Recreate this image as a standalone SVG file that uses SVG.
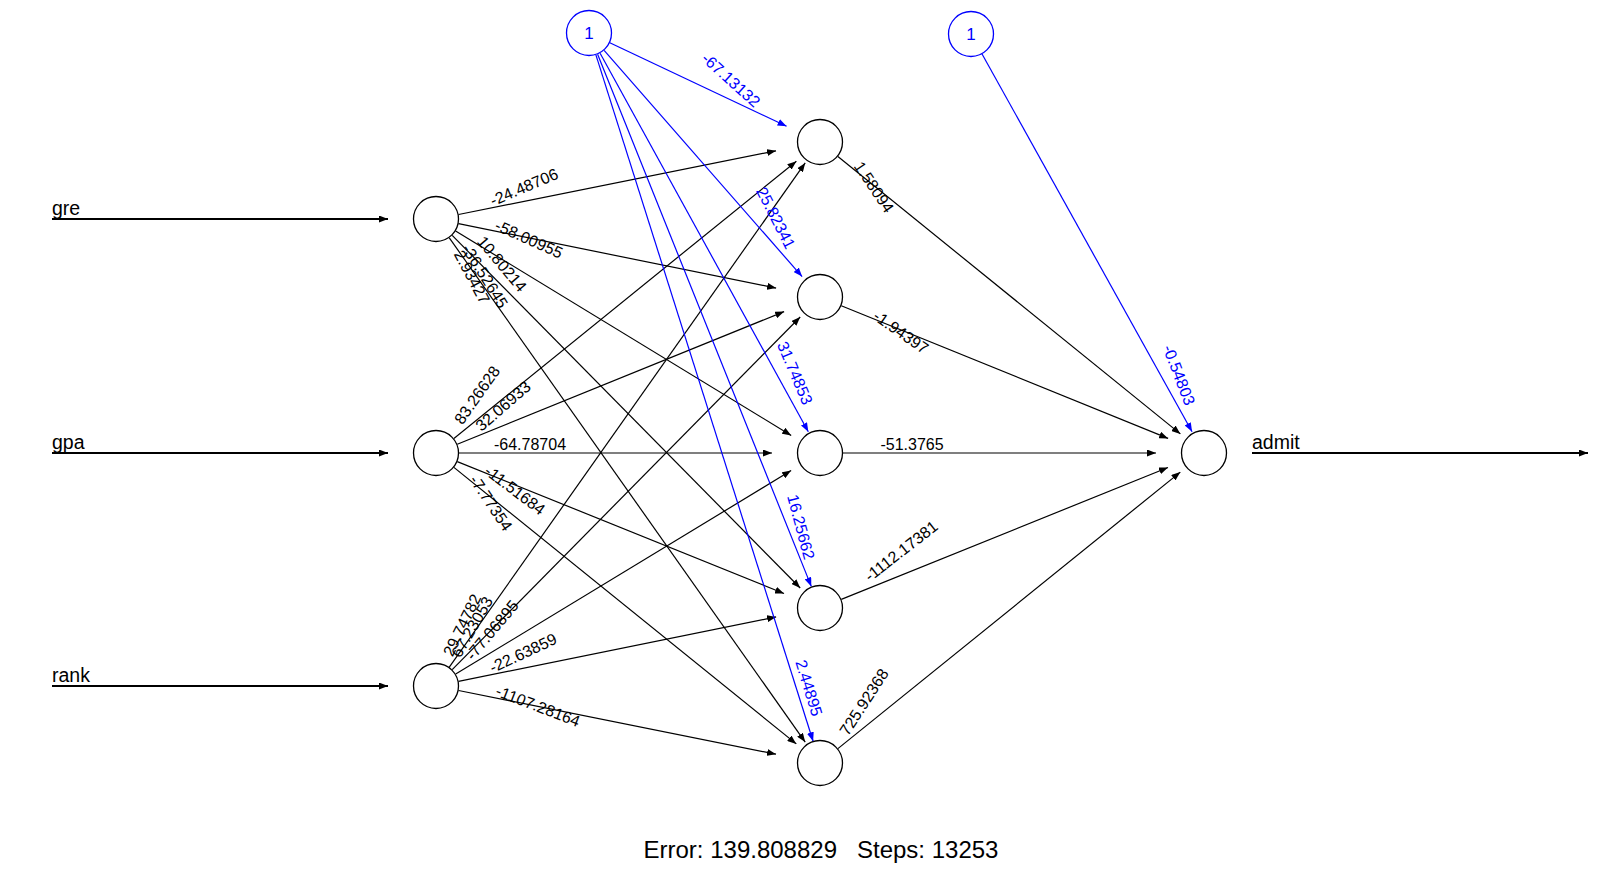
<svg xmlns="http://www.w3.org/2000/svg" width="1619" height="893" viewBox="0 0 1619 893">
<style>
.bg{fill:#ffffff}
.e{stroke:#000;stroke-width:1.2;fill:none;marker-end:url(#ab)}
.eb{stroke:#0000ff;stroke-width:1.2;fill:none;marker-end:url(#au)}
.io{stroke:#000;stroke-width:2;fill:none;marker-end:url(#ab)}
.n{fill:#fff;stroke:#000;stroke-width:1.3}
.nb{fill:#fff;stroke:#0000ff;stroke-width:1.3}
.lbl{font-family:"Liberation Sans",Arial,sans-serif;font-size:16px;fill:#000;text-anchor:middle}
.lb{font-family:"Liberation Sans",Arial,sans-serif;font-size:16px;fill:#0000ff;text-anchor:middle}
.var{font-family:"Liberation Sans",Arial,sans-serif;font-size:19.5px;fill:#000}
.one{font-family:"Liberation Sans",Arial,sans-serif;font-size:17px;fill:#0000ff;text-anchor:middle}
.foot{font-family:"Liberation Sans",Arial,sans-serif;font-size:24px;fill:#000;text-anchor:middle;white-space:pre}
</style>
<defs>
<marker id="ab" markerUnits="userSpaceOnUse" markerWidth="9" markerHeight="7" refX="9" refY="3.5" orient="auto"><path d="M0,0 L9,3.5 L0,7 z" fill="#000"/></marker>
<marker id="au" markerUnits="userSpaceOnUse" markerWidth="9" markerHeight="7" refX="9" refY="3.5" orient="auto"><path d="M0,0 L9,3.5 L0,7 z" fill="#0000ff"/></marker>
</defs>
<rect class="bg" x="0" y="0" width="1619" height="893"/>
<g id="connectors">
<line class="io" x1="52" y1="219" x2="388" y2="219"/>
<line class="io" x1="52" y1="453" x2="388" y2="453"/>
<line class="io" x1="52" y1="686" x2="388" y2="686"/>
<line class="io" x1="1252" y1="453" x2="1588" y2="453"/>
<line class="e" x1="458.6" y1="214.5" x2="776.0" y2="150.8"/>
<line class="e" x1="458.5" y1="223.6" x2="776.1" y2="288.1"/>
<line class="e" x1="455.6" y1="231.0" x2="791.2" y2="435.4"/>
<line class="e" x1="452.2" y1="235.4" x2="800.2" y2="588.0"/>
<line class="e" x1="449.3" y1="237.8" x2="805.2" y2="742.1"/>
<line class="e" x1="453.9" y1="438.5" x2="796.4" y2="161.2"/>
<line class="e" x1="457.3" y1="444.3" x2="784.1" y2="311.6"/>
<line class="e" x1="459" y1="453" x2="772" y2="453"/>
<line class="e" x1="457.3" y1="461.6" x2="784.0" y2="593.5"/>
<line class="e" x1="453.9" y1="467.4" x2="796.3" y2="743.9"/>
<line class="e" x1="449.3" y1="667.2" x2="805.2" y2="162.9"/>
<line class="e" x1="452.2" y1="669.6" x2="800.2" y2="317.0"/>
<line class="e" x1="455.7" y1="674.1" x2="791.1" y2="470.6"/>
<line class="e" x1="458.5" y1="681.4" x2="776.1" y2="616.9"/>
<line class="e" x1="458.6" y1="690.5" x2="776.0" y2="754.2"/>
<line class="eb" x1="609.8" y1="42.8" x2="786.6" y2="126.2"/>
<line class="eb" x1="604.1" y1="50.3" x2="802.1" y2="276.6"/>
<line class="eb" x1="600.1" y1="53.2" x2="808.3" y2="431.7"/>
<line class="eb" x1="597.6" y1="54.3" x2="811.3" y2="586.4"/>
<line class="eb" x1="595.9" y1="54.9" x2="813.1" y2="741.2"/>
<line class="e" x1="837.9" y1="156.5" x2="1180.4" y2="433.9"/>
<line class="e" x1="841.3" y1="305.7" x2="1168.1" y2="438.4"/>
<line class="e" x1="843" y1="453" x2="1156" y2="453"/>
<line class="e" x1="841.3" y1="599.4" x2="1168.0" y2="467.5"/>
<line class="e" x1="837.9" y1="748.6" x2="1180.3" y2="472.1"/>
<line class="eb" x1="981.9" y1="53.7" x2="1192.1" y2="431.7"/>
</g>
<g id="edge-labels">
<text class="lbl" dy="0.35em" transform="translate(524,187) rotate(-23)">-24.48706</text>
<text class="lbl" dy="0.35em" transform="translate(529,239) rotate(24)">-58.00955</text>
<text class="lbl" dy="0.35em" transform="translate(502,264) rotate(50)">10.80214</text>
<text class="lbl" dy="0.35em" transform="translate(485,276) rotate(58)">-36.52645</text>
<text class="lbl" dy="0.35em" transform="translate(472,277) rotate(62)">2.93427</text>
<text class="lbl" dy="0.35em" transform="translate(477,395) rotate(-55)">83.26628</text>
<text class="lbl" dy="0.35em" transform="translate(503,406) rotate(-41)">32.06933</text>
<text class="lbl" dy="0.35em" transform="translate(530,444)">-64.78704</text>
<text class="lbl" dy="0.35em" transform="translate(515,490) rotate(37)">-11.51684</text>
<text class="lbl" dy="0.35em" transform="translate(491,503) rotate(56)">-7.77354</text>
<text class="lbl" dy="0.35em" transform="translate(462,625) rotate(-64)">29.74782</text>
<text class="lbl" dy="0.35em" transform="translate(472,627) rotate(-60)">67.23053</text>
<text class="lbl" dy="0.35em" transform="translate(492,630) rotate(-50)">-77.06895</text>
<text class="lbl" dy="0.35em" transform="translate(523,653) rotate(-25)">-22.63859</text>
<text class="lbl" dy="0.35em" transform="translate(538,706) rotate(21)">-1107.28164</text>
<text class="lb" dy="0.35em" transform="translate(731,80) rotate(42)">-67.13132</text>
<text class="lb" dy="0.35em" transform="translate(776,218) rotate(63)">25.82341</text>
<text class="lb" dy="0.35em" transform="translate(795,373) rotate(67)">31.74853</text>
<text class="lb" dy="0.35em" transform="translate(801,527) rotate(75)">16.25662</text>
<text class="lb" dy="0.35em" transform="translate(809,688) rotate(73)">2.44895</text>
<text class="lbl" dy="0.35em" transform="translate(874,187) rotate(56)">1.58094</text>
<text class="lbl" dy="0.35em" transform="translate(901,332) rotate(35)">-1.94397</text>
<text class="lbl" dy="0.35em" transform="translate(912,444)">-51.3765</text>
<text class="lbl" dy="0.35em" transform="translate(901,551) rotate(-38)">-1112.17381</text>
<text class="lbl" dy="0.35em" transform="translate(864,702) rotate(-57)">725.92368</text>
<text class="lb" dy="0.35em" transform="translate(1179,375) rotate(69)">-0.54803</text>
</g>
<g id="input-gre"><circle class="n" cx="436" cy="219" r="22.5"/><text class="var" x="52" y="215">gre</text></g>
<g id="input-gpa"><circle class="n" cx="436" cy="453" r="22.5"/><text class="var" x="52" y="449">gpa</text></g>
<g id="input-rank"><circle class="n" cx="436" cy="686" r="22.5"/><text class="var" x="52" y="682">rank</text></g>
<g id="bias-1"><circle class="nb" cx="589" cy="33" r="22.5"/><text class="one" x="589" y="39">1</text></g>
<g id="bias-2"><circle class="nb" cx="971" cy="34" r="22.5"/><text class="one" x="971" y="40">1</text></g>
<g id="hidden-1"><circle class="n" cx="820" cy="142" r="22.5"/></g>
<g id="hidden-2"><circle class="n" cx="820" cy="297" r="22.5"/></g>
<g id="hidden-3"><circle class="n" cx="820" cy="453" r="22.5"/></g>
<g id="hidden-4"><circle class="n" cx="820" cy="608" r="22.5"/></g>
<g id="hidden-5"><circle class="n" cx="820" cy="763" r="22.5"/></g>
<g id="output-admit"><circle class="n" cx="1204" cy="453" r="22.5"/><text class="var" x="1252" y="449">admit</text></g>
<g id="footer"><text class="foot" x="821" y="858" xml:space="preserve">Error: 139.808829   Steps: 13253</text></g>
</svg>
